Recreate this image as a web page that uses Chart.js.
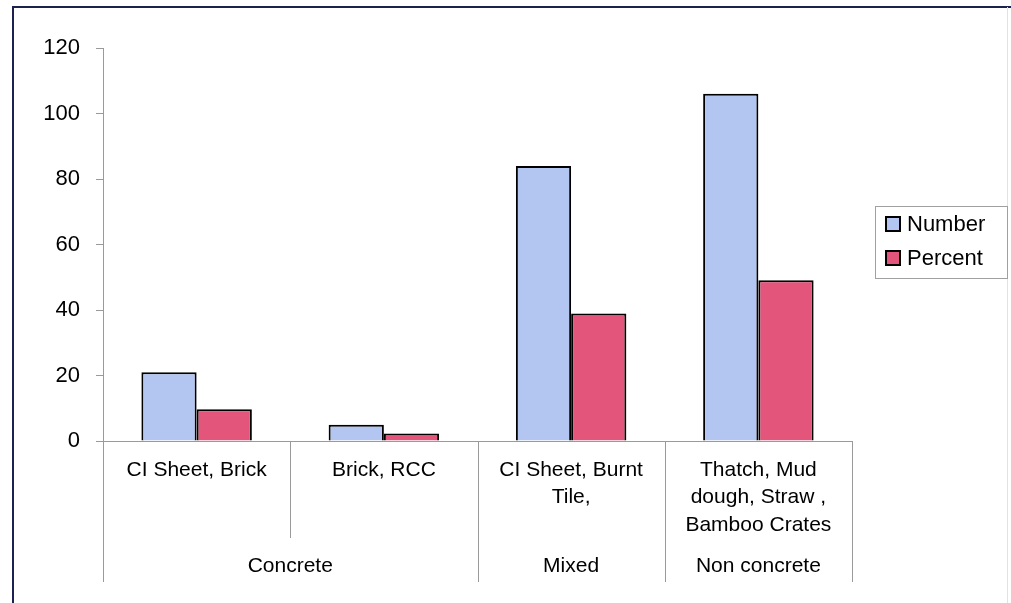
<!DOCTYPE html>
<html>
<head>
<meta charset="utf-8">
<script src="https://cdn.jsdelivr.net/npm/chart.js@4.4.1/dist/chart.umd.min.js"></script>
<style>
  html, body { margin: 0; padding: 0; background: #fff; }
  #wrap { position: relative; width: 1011px; height: 603px; }
</style>
</head>
<body>
<div id="wrap"><canvas id="chart" width="1011" height="603"></canvas></div>
<script>
// data
const categories = [
  ["CI Sheet, Brick"],
  ["Brick, RCC"],
  ["CI Sheet, Burnt", "Tile,"],
  ["Thatch, Mud", "dough, Straw ,", "Bamboo Crates"]
];
const groups = ["Concrete", "Mixed", "Non concrete"];
const groupSpans = [2, 1, 1];
const numberValues = [21, 5, 84, 106];
const percentValues = [9.7, 2.3, 38.9, 49.1];
const yTicks = [0, 20, 40, 60, 80, 100, 120];

const FONT = "'Liberation Sans', Arial, sans-serif";
const LINE = "#9a9a9a";

// frame, multi-level axis separators, group labels and boxed legend
const extras = {
  id: "extras",
  beforeDraw(chart) {
    const ctx = chart.ctx;
    ctx.save();
    ctx.fillStyle = "#fff";
    ctx.fillRect(0, 0, chart.width, chart.height);
    ctx.strokeStyle = "#1c2150";
    ctx.lineWidth = 2;
    ctx.beginPath();
    ctx.moveTo(13, 603);
    ctx.lineTo(13, 7);
    ctx.lineTo(1011, 7);
    ctx.stroke();
    ctx.strokeStyle = "#e2e2e2";
    ctx.lineWidth = 1;
    ctx.beginPath();
    ctx.moveTo(1007.5, 7);
    ctx.lineTo(1007.5, 603);
    ctx.stroke();
    ctx.restore();
  },
  afterDraw(chart) {
    const ctx = chart.ctx;
    const x = chart.scales.x;
    const base = chart.chartArea.bottom;
    const n = categories.length;
    const edges = [x.left];
    for (let i = 0; i < n - 1; i++) {
      edges.push((x.getPixelForValue(i) + x.getPixelForValue(i + 1)) / 2);
    }
    edges.push(x.right);

    // which edges are group boundaries
    const groupEdges = [0];
    let acc = 0;
    groupSpans.forEach(s => { acc += s; groupEdges.push(acc); });

    ctx.save();
    ctx.strokeStyle = LINE;
    ctx.lineWidth = 1;
    edges.forEach((ex, i) => {
      const bottom = groupEdges.includes(i) ? 582 : 538;
      const px = Math.round(ex) + 0.5;
      ctx.beginPath();
      ctx.moveTo(px, base);
      ctx.lineTo(px, bottom);
      ctx.stroke();
    });

    // group labels
    ctx.fillStyle = "#000";
    ctx.font = "21px " + FONT;
    ctx.textAlign = "center";
    ctx.textBaseline = "middle";
    groups.forEach((g, i) => {
      const cx = (edges[groupEdges[i]] + edges[groupEdges[i + 1]]) / 2;
      ctx.fillText(g, cx, 566);
    });

    // legend
    ctx.strokeStyle = "#a0a0a0";
    ctx.lineWidth = 1;
    ctx.strokeRect(875.5, 206.5, 132, 72);
    const rows = [224, 258];
    chart.data.datasets.forEach((ds, i) => {
      ctx.fillStyle = ds.backgroundColor;
      ctx.fillRect(886, rows[i] - 7, 14, 14);
      ctx.strokeStyle = "#000";
      ctx.lineWidth = 2;
      ctx.strokeRect(886, rows[i] - 7, 14, 14);
      ctx.fillStyle = "#000";
      ctx.font = "22px " + FONT;
      ctx.textAlign = "left";
      ctx.fillText(ds.label, 907, rows[i] + 1);
    });
    ctx.restore();
  }
};

new Chart(document.getElementById("chart"), {
  type: "bar",
  data: {
    labels: categories,
    datasets: [
      {
        label: "Number",
        data: numberValues,
        backgroundColor: "#b3c6f1",
        borderColor: "#000",
        borderWidth: 2
      },
      {
        label: "Percent",
        data: percentValues,
        backgroundColor: "#e4557c",
        borderColor: "#000",
        borderWidth: 2
      }
    ]
  },
  options: {
    responsive: false,
    animation: false,
    layout: { padding: { top: 48, right: 159, bottom: 0, left: 0 } },
    datasets: { bar: { categoryPercentage: 0.59, barPercentage: 1.0 } },
    plugins: { legend: { display: false }, tooltip: { enabled: false } },
    scales: {
      x: {
        grid: { display: false, drawTicks: false },
        border: { color: LINE, width: 1 },
        ticks: {
          color: "#000",
          font: { family: FONT, size: 21, lineHeight: 1.32 },
          padding: 15,
          maxRotation: 0,
          autoSkip: false
        },
        afterFit(scale) { scale.height = 162; }
      },
      y: {
        min: yTicks[0],
        max: yTicks[yTicks.length - 1],
        ticks: {
          stepSize: yTicks[1] - yTicks[0],
          color: "#000",
          font: { family: FONT, size: 22 },
          padding: 16
        },
        grid: { drawOnChartArea: false, drawTicks: true, tickLength: 7, color: LINE },
        border: { color: LINE, width: 1 },
        afterFit(scale) { scale.width = 103; }
      }
    }
  },
  plugins: [extras]
});
</script>
</body>
</html>
